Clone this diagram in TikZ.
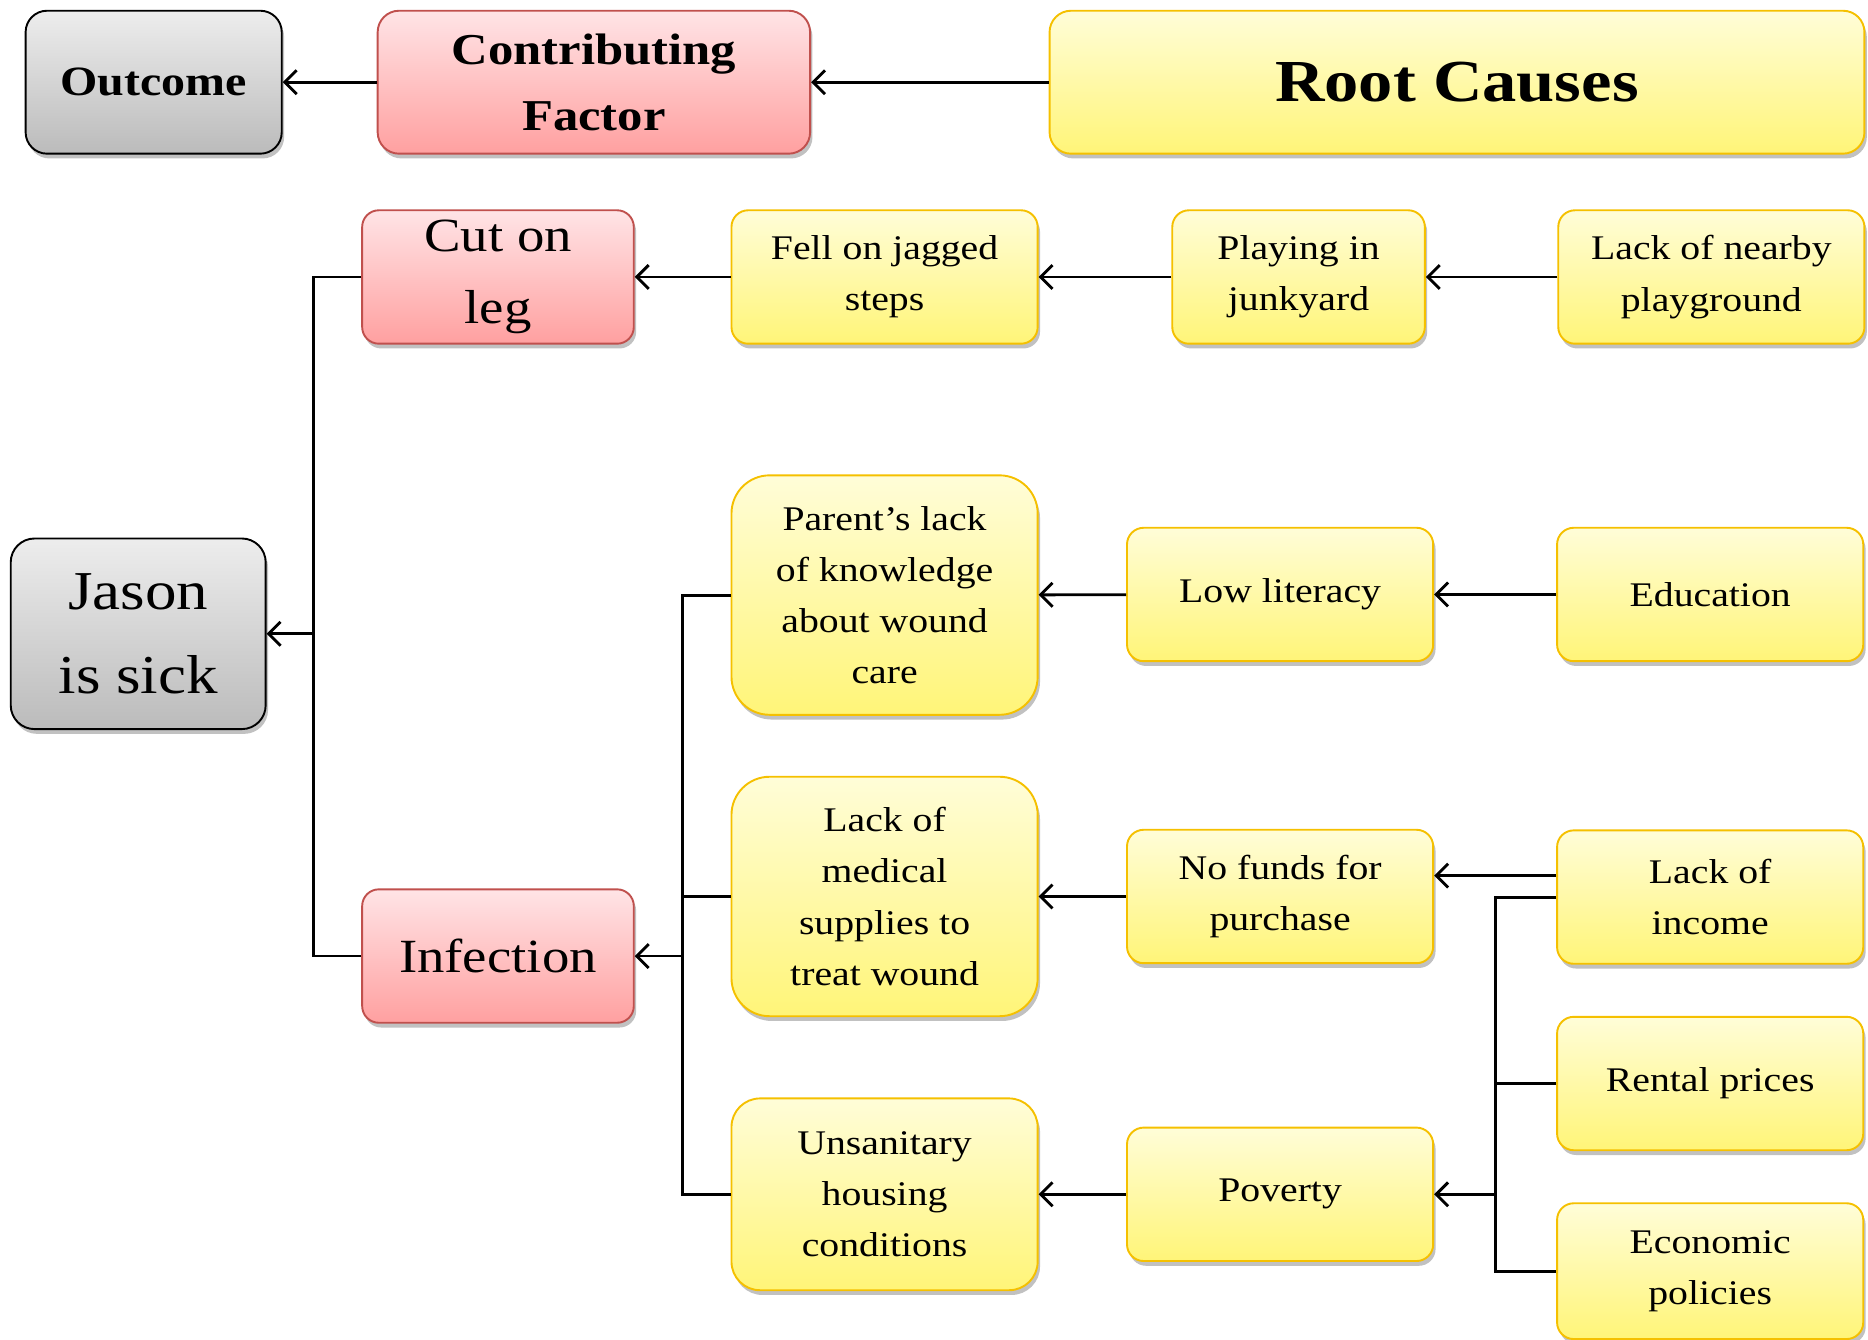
\documentclass[tikz,border=0pt]{standalone}
\usepackage{fontspec}
\setmainfont{Liberation Serif}[FakeStretch=1.15]
\usetikzlibrary{arrows.meta,shadows}

\definecolor{causeline}{HTML}{F5C000}
\definecolor{causetop}{HTML}{FFFDD8}
\definecolor{causebot}{HTML}{FFF578}
\definecolor{factorline}{HTML}{C0504D}
\definecolor{factortop}{HTML}{FFE4E6}
\definecolor{factorbot}{HTML}{FFA0A0}
\definecolor{resulttop}{HTML}{EDEDED}
\definecolor{resultbot}{HTML}{BBBBBB}

\begin{document}
\begin{tikzpicture}[x=0.5pt, y=-0.5pt,
    box/.style={line width=0.8pt, rounded corners=7pt, align=center, inner sep=0pt,
        drop shadow={shadow xshift=1pt, shadow yshift=-2pt, opacity=0.35, fill=black!70}},
    cause/.style={box, draw=causeline, top color=causetop, bottom color=causebot,
        minimum width=128.5pt, minimum height=56pt, font=\fontsize{14.5}{21.5}\selectfont},
    factor/.style={box, draw=factorline, top color=factortop, bottom color=factorbot,
        minimum width=114pt, minimum height=56pt, font=\fontsize{20}{30}\selectfont},
    result/.style={box, draw=black, top color=resulttop, bottom color=resultbot},
    conn/.style={line width=1.2pt, -{Straight Barb[length=5pt,width=10pt]}},
    link/.style={line width=1.2pt}]
    \useasboundingbox (0,0) rectangle (1568,1124);

    \node[result, minimum width=107.5pt, minimum height=60pt, rounded corners=9pt,
        font=\fontsize{17.5}{26}\selectfont\bfseries] (outcome) at (129,69) {Outcome};
    \node[factor, minimum width=181.5pt, minimum height=60pt, rounded corners=9pt,
        font=\fontsize{18.5}{27.5}\selectfont\bfseries] (contrib) at (498.5,69) {Contributing\\Factor};
    \node[cause, minimum width=342pt, minimum height=60pt, rounded corners=9pt,
        font=\fontsize{25}{30}\selectfont\bfseries] (roots) at (1223,69) {Root Causes};
    \draw[conn] (roots) -- (contrib);
    \draw[conn] (contrib) -- (outcome);

    \node[result, minimum width=107pt, minimum height=80pt, rounded corners=10pt,
        font=\fontsize{23}{35}\selectfont] (jason) at (116,532) {Jason\\is sick};

    \node[factor] (cut) at (418,232.5) {Cut on\\leg};
    \node[cause] (fell) at (742.5,232.5) {Fell on jagged\\steps};
    \node[cause, minimum width=106pt] (junkyard) at (1090,232.5) {Playing in\\junkyard};
    \node[cause] (playground) at (1436.5,232.5) {Lack of nearby\\playground};
    \draw[conn] (playground) -- (junkyard);
    \draw[conn] (junkyard) -- (fell);
    \draw[conn] (fell) -- (cut);

    \node[factor] (infection) at (418,802.5) {Infection};
    \coordinate (jbus) at (263,532);
    \draw[link] (cut.west) -| (jbus);
    \draw[link] (infection.west) -| (jbus);
    \draw[conn] (jbus) -- (jason.east);

    \node[cause, minimum height=100.5pt, rounded corners=16pt] (knowledge) at (742.5,499.5)
        {Parent's lack\\of knowledge\\about wound\\care};
    \node[cause, minimum height=100.5pt, rounded corners=16pt] (supplies) at (742.5,752.5)
        {Lack of\\medical\\supplies to\\treat wound};
    \node[cause, minimum height=80.5pt, rounded corners=12pt] (housing) at (742.5,1002.5)
        {Unsanitary\\housing\\conditions};
    \coordinate (ibus) at (573,802.5);
    \draw[link] (knowledge.west) -| (ibus);
    \draw[link] (housing.west) -| (ibus);
    \draw[link] (supplies.west) -- (supplies.west -| ibus);
    \draw[conn] (ibus) -- (infection.east);

    \node[cause] (literacy) at (1074.5,499) {Low literacy};
    \node[cause] (education) at (1435.5,499) {Education};
    \draw[conn] (education) -- (literacy);
    \draw[conn] (literacy) -- (knowledge);

    \node[cause] (funds) at (1074.5,752.5) {No funds for\\purchase};
    \node[cause] (income) at (1435.5,753) {Lack of\\income};
    \node[cause] (rental) at (1435.5,909.5) {Rental prices};
    \node[cause, minimum height=57pt] (policies) at (1435.5,1067) {Economic\\policies};
    \node[cause] (poverty) at (1074.5,1002.5) {Poverty};
    \draw[conn] ([yshift=9pt]income.west) -- ([yshift=9pt]income.west -| funds.east);
    \draw[conn] (funds) -- (supplies);
    \coordinate (pbus) at (1255,1002.5);
    \draw[link] (income.west) -| (pbus);
    \draw[link] (policies.west) -| (pbus);
    \draw[link] (rental.west) -- (rental.west -| pbus);
    \draw[conn] (pbus) -- (poverty.east);
    \draw[conn] (poverty) -- (housing);
\end{tikzpicture}
\end{document}
